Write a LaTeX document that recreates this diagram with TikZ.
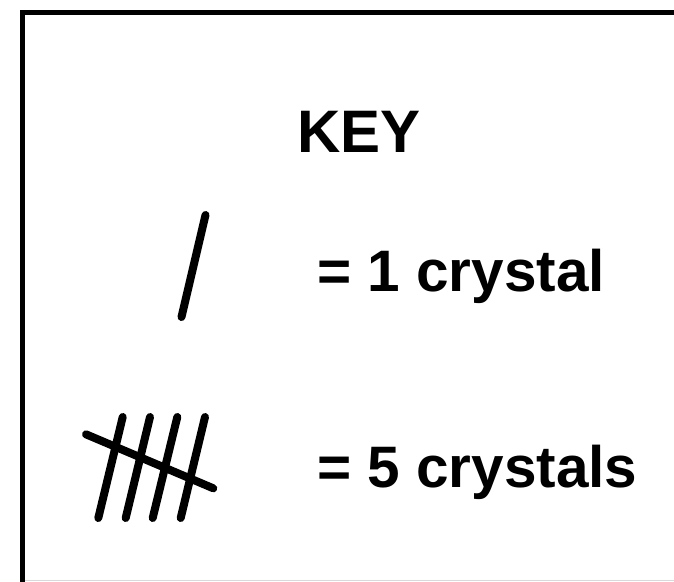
\documentclass[tikz,border=0pt]{standalone}
\usepackage{fontspec}
\setmainfont{Liberation Sans}
\begin{document}
\begin{tikzpicture}[x=1pt,y=-1pt,
  tally/.style={line width=8pt,line cap=round},
  keytext/.style={inner sep=0pt,anchor=base west,font=\fontsize{58.5}{70}\selectfont\bfseries}]
\useasboundingbox (0,0) rectangle (674,581);
\fill[white] (0,0) rectangle (674,581);
% frame (continues beyond the right and bottom edges)
\draw[line width=5pt] (22.5,600) -- (22.5,12) -- (700,12);
\draw[black!15,line width=1pt] (25,580) -- (674,580);
% title
\node[keytext,font=\fontsize{60}{72}\selectfont\bfseries] (key) at (297,152) {KEY};
% single mark
\draw[tally] (205.5,215) -- (181.5,317);
\node[keytext] (one) at (317,291) {= 1 crystal};
% five marks
\draw[tally] (122.7,417) -- (98.3,518);
\draw[tally] (150,417) -- (125.7,518);
\draw[tally] (177.3,417) -- (152.7,518);
\draw[tally] (205,417) -- (180.7,518);
\draw[tally] (86,434.3) -- (213.3,488.3);
\node[keytext] (five) at (317,487) {= 5 crystals};
\end{tikzpicture}
\end{document}
